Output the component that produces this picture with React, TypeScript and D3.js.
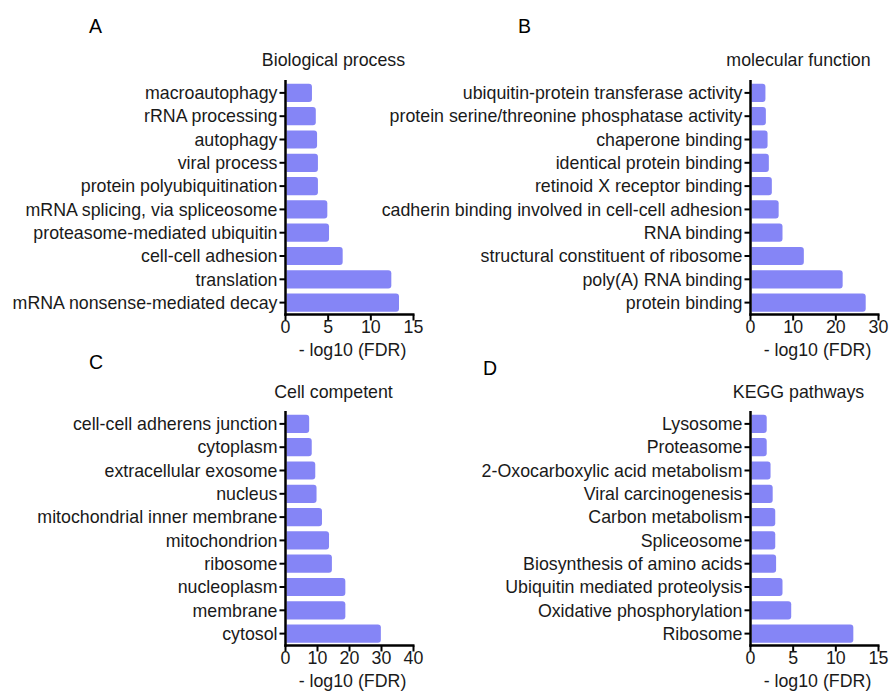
import { useEffect, useRef } from 'react';
import * as d3 from 'd3';

// Panel A - Biological process
const bpTerms = [
  'macroautophagy',
  'rRNA processing',
  'autophagy',
  'viral process',
  'protein polyubiquitination',
  'mRNA splicing, via spliceosome',
  'proteasome-mediated ubiquitin',
  'cell-cell adhesion',
  'translation',
  'mRNA nonsense-mediated decay',
];
const bpValues = [3.1, 3.55, 3.7, 3.8, 3.8, 4.9, 5.1, 6.7, 12.4, 13.3];
const bpTicks = [0, 5, 10, 15];

// Panel B - molecular function
const mfTerms = [
  'ubiquitin-protein transferase activity',
  'protein serine/threonine phosphatase activity',
  'chaperone binding',
  'identical protein binding',
  'retinoid X receptor binding',
  'cadherin binding involved in cell-cell adhesion',
  'RNA binding',
  'structural constituent of ribosome',
  'poly(A) RNA binding',
  'protein binding',
];
const mfValues = [3.5, 3.6, 4.0, 4.3, 5.0, 6.6, 7.5, 12.5, 21.6, 27.0];
const mfTicks = [0, 10, 20, 30];

// Panel C - Cell competent
const ccTerms = [
  'cell-cell adherens junction',
  'cytoplasm',
  'extracellular exosome',
  'nucleus',
  'mitochondrial inner membrane',
  'mitochondrion',
  'ribosome',
  'nucleoplasm',
  'membrane',
  'cytosol',
];
const ccValues = [7.4, 8.2, 9.3, 9.7, 11.4, 13.6, 14.5, 18.7, 18.7, 29.8];
const ccTicks = [0, 10, 20, 30, 40];

// Panel D - KEGG pathways
const keggTerms = [
  'Lysosome',
  'Proteasome',
  '2-Oxocarboxylic acid metabolism',
  'Viral carcinogenesis',
  'Carbon metabolism',
  'Spliceosome',
  'Biosynthesis of amino acids',
  'Ubiquitin mediated proteolysis',
  'Oxidative phosphorylation',
  'Ribosome',
];
const keggValues = [1.9, 1.9, 2.35, 2.6, 2.9, 2.9, 3.0, 3.75, 4.77, 12.05];
const keggTicks = [0, 5, 10, 15];

const xTitle = '- log10 (FDR)';
const FONT = '"Liberation Sans", Arial, sans-serif';
const FS = 17.8;
const BAR = '#8585f6';
const INK = '#1a1a1a';

const W = 889;
const H = 692;

const App = () => {
  const svgRef = useRef<SVGSVGElement | null>(null);

  useEffect(() => {
    const svg = d3.select(svgRef.current);
    svg.selectAll('*').remove();

    const panels = [
      { letter: 'A', lx: 89, ly: 33, title: 'Biological process', terms: bpTerms, values: bpValues, ticks: bpTicks, x0: 285.5, x1: 413.5, top: 81, bottom: 314.5, titleY: 66 },
      { letter: 'B', lx: 518, ly: 33, title: 'molecular function', terms: mfTerms, values: mfValues, ticks: mfTicks, x0: 750.5, x1: 878.5, top: 81, bottom: 314.5, titleY: 66 },
      { letter: 'C', lx: 89, ly: 369, title: 'Cell competent', terms: ccTerms, values: ccValues, ticks: ccTicks, x0: 285.5, x1: 413.5, top: 412, bottom: 645.5, titleY: 398 },
      { letter: 'D', lx: 483, ly: 375, title: 'KEGG pathways', terms: keggTerms, values: keggValues, ticks: keggTicks, x0: 750.5, x1: 878.5, top: 412, bottom: 645.5, titleY: 398 },
    ];

    panels.forEach(p => {
      const g = svg.append('g');
      const x = d3.scaleLinear()
        .domain([0, p.ticks[p.ticks.length - 1]])
        .range([p.x0, p.x1]);
      const y = d3.scaleBand<string>()
        .domain(p.terms)
        .range([p.top, p.bottom])
        .paddingInner(0.22)
        .paddingOuter(0.12);

      // bars, rounded on the right end only
      g.selectAll('.bar')
        .data(p.terms.map((t, i) => ({ t, v: p.values[i] })))
        .enter()
        .append('path')
        .attr('fill', BAR)
        .attr('d', d => {
          const x0 = x(0) + 1;
          const x1 = x(d.v);
          const y0 = y(d.t)!;
          const h = y.bandwidth();
          const r = 3;
          const path = d3.path();
          path.moveTo(x0, y0);
          path.lineTo(x1 - r, y0);
          path.quadraticCurveTo(x1, y0, x1, y0 + r);
          path.lineTo(x1, y0 + h - r);
          path.quadraticCurveTo(x1, y0 + h, x1 - r, y0 + h);
          path.lineTo(x0, y0 + h);
          path.closePath();
          return path.toString();
        });

      // y axis
      g.append('line')
        .attr('x1', p.x0).attr('x2', p.x0)
        .attr('y1', p.top - 1).attr('y2', p.bottom + 1.2)
        .attr('stroke', '#000').attr('stroke-width', 2.5);
      g.selectAll('.ytick')
        .data(p.terms)
        .enter()
        .append('line')
        .attr('x1', p.x0 - 6).attr('x2', p.x0)
        .attr('y1', d => y(d)! + y.bandwidth() / 2)
        .attr('y2', d => y(d)! + y.bandwidth() / 2)
        .attr('stroke', '#000').attr('stroke-width', 2);
      g.selectAll('.ylabel')
        .data(p.terms)
        .enter()
        .append('text')
        .attr('x', p.x0 - 8)
        .attr('y', d => y(d)! + y.bandwidth() / 2)
        .attr('dy', '0.35em')
        .attr('text-anchor', 'end')
        .attr('font-family', FONT)
        .attr('font-size', FS)
        .attr('fill', INK)
        .text(d => d);

      // x axis
      g.append('line')
        .attr('x1', p.x0 - 1.2).attr('x2', p.x1 + 1)
        .attr('y1', p.bottom).attr('y2', p.bottom)
        .attr('stroke', '#000').attr('stroke-width', 2.5);
      g.selectAll('.xtick')
        .data(p.ticks)
        .enter()
        .append('line')
        .attr('x1', d => x(d)).attr('x2', d => x(d))
        .attr('y1', p.bottom).attr('y2', p.bottom + 6)
        .attr('stroke', '#000').attr('stroke-width', 2);
      g.selectAll('.xlabel')
        .data(p.ticks)
        .enter()
        .append('text')
        .attr('x', d => x(d))
        .attr('y', p.bottom + 18)
        .attr('text-anchor', 'middle')
        .attr('font-family', FONT)
        .attr('font-size', FS)
        .attr('fill', INK)
        .text(d => d);

      const mid = (p.x0 + p.x1) / 2;
      g.append('text')
        .attr('x', mid + 3)
        .attr('y', p.bottom + 41)
        .attr('text-anchor', 'middle')
        .attr('font-family', FONT)
        .attr('font-size', FS)
        .attr('fill', INK)
        .text(xTitle);

      // panel titles
      g.append('text')
        .attr('x', mid - 16)
        .attr('y', p.titleY)
        .attr('text-anchor', 'middle')
        .attr('font-family', FONT)
        .attr('font-size', FS)
        .attr('fill', INK)
        .text(p.title);
      g.append('text')
        .attr('x', p.lx)
        .attr('y', p.ly)
        .attr('font-family', FONT)
        .attr('font-size', 19.5)
        .attr('fill', '#000')
        .text(p.letter);
    });
  }, []);

  return (
    <svg
      ref={svgRef}
      width={W}
      height={H}
      style={{ position: 'absolute', left: 0, top: 0, background: '#fff' }}
    />
  );
};

export default App;
